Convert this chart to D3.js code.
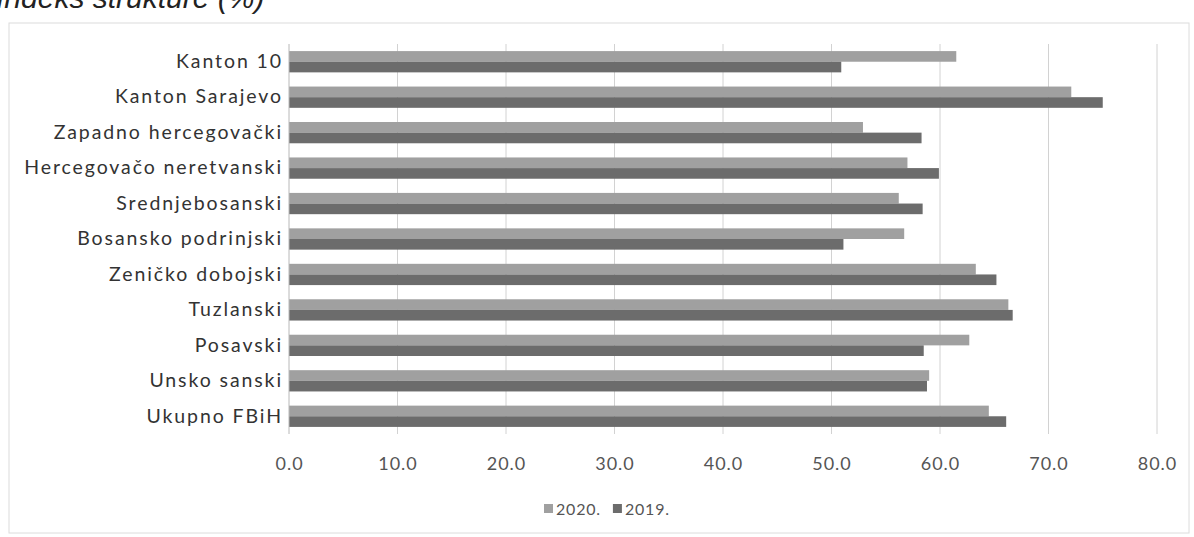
<!DOCTYPE html>
<html>
<head>
<meta charset="utf-8">
<script src="https://cdn.jsdelivr.net/npm/d3@7/dist/d3.min.js"></script>
<style>
  html, body { margin: 0; padding: 0; background: #fff; }
  svg { display: block; }
</style>
</head>
<body>
<svg id="chart" width="1194" height="537"></svg>
<script>
const categories = ["Kanton 10", "Kanton Sarajevo", "Zapadno hercegovački", "Hercegovačo neretvanski",
  "Srednjebosanski", "Bosansko podrinjski", "Zeničko dobojski", "Tuzlanski", "Posavski",
  "Unsko sanski", "Ukupno FBiH"];
const values2020 = [61.5, 72.1, 52.9, 57.0, 56.2, 56.7, 63.3, 66.3, 62.7, 59.0, 64.5];
const values2019 = [50.9, 75.0, 58.3, 59.9, 58.4, 51.1, 65.2, 66.7, 58.5, 58.8, 66.1];
const seriesNames = ["2020.", "2019."];
const tickValues = [0, 10, 20, 30, 40, 50, 60, 70, 80];
const titleText = "Indeks strukture (%)";

const svg = d3.select("#chart");
const colors = { "2020.": "#a0a0a0", "2019.": "#6c6c6c" };
const font = "Lato, 'Open Sans', sans-serif";

// frame
svg.append("rect").attr("x", 9).attr("y", 23).attr("width", 1180).attr("height", 510)
  .attr("fill", "none").attr("stroke", "#dcdcdc").attr("stroke-width", 1);

// title (partially cut at top)
svg.append("text").attr("x", -4).attr("y", 8)
  .attr("font-family", "Liberation Sans, Arial, sans-serif").attr("font-style", "italic")
  .attr("font-size", 30).attr("fill", "#222").text(titleText);

const x = d3.scaleLinear().domain([0, 80]).range([289, 1157]);
const y = d3.scaleBand().domain(categories).range([44, 434]).paddingInner(0.4).paddingOuter(0.2);
const sub = d3.scaleBand().domain(seriesNames).range([0, y.bandwidth()]);

// gridlines
svg.append("g").selectAll("line").data(tickValues.slice(1)).join("line")
  .attr("x1", d => x(d)).attr("x2", d => x(d)).attr("y1", 44).attr("y2", 434)
  .attr("stroke", "#d2d2d2").attr("stroke-width", 1);

// bars
const rows = categories.map((c, i) => ({ c, v: { "2020.": values2020[i], "2019.": values2019[i] } }));
const g = svg.append("g");
rows.forEach(r => {
  seriesNames.forEach(s => {
    g.append("rect")
      .attr("x", x(0)).attr("y", y(r.c) + sub(s))
      .attr("width", x(r.v[s]) - x(0)).attr("height", sub.bandwidth())
      .attr("fill", colors[s]);
  });
});

// vertical axis line
svg.append("line").attr("x1", x(0)).attr("x2", x(0)).attr("y1", 44).attr("y2", 434)
  .attr("stroke", "#b8b8b8").attr("stroke-width", 1);

// category axis labels
const yAxis = d3.axisLeft(y).tickSize(0).tickPadding(6);
const ya = svg.append("g").attr("transform", `translate(${x(0)},0)`).call(yAxis);
ya.select(".domain").remove();
ya.selectAll("text").attr("font-family", font).attr("font-size", 19.5)
  .attr("letter-spacing", "1.9px").attr("fill", "#333");

// x axis labels
const xAxis = d3.axisBottom(x).tickValues(tickValues).tickFormat(d3.format(".1f")).tickSize(0).tickPadding(16);
const xa = svg.append("g").attr("transform", "translate(0,441)").call(xAxis);
xa.select(".domain").remove();
xa.selectAll("text").attr("font-family", font).attr("font-size", 18)
  .attr("letter-spacing", "1px").attr("fill", "#555");

// legend
const legend = svg.append("g").attr("transform", "translate(544,509)");
let lx = 0;
seriesNames.forEach(s => {
  legend.append("rect").attr("x", lx).attr("y", -5).attr("width", 9).attr("height", 9).attr("fill", colors[s]);
  const t = legend.append("text").attr("x", lx + 12).attr("y", 0).attr("dy", "0.35em")
    .attr("font-family", font).attr("font-size", 16).attr("letter-spacing", "0.8px")
    .attr("fill", "#555").text(s);
  lx += 12 + t.node().getComputedTextLength() + 12;
});
</script>
</body>
</html>
